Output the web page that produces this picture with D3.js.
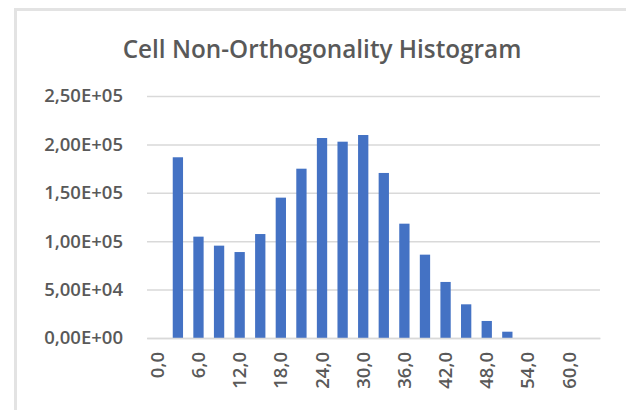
<!DOCTYPE html>
<html>
<head>
<meta charset="utf-8">
<script src="https://cdn.jsdelivr.net/npm/d3@7"></script>
<style>
  body { margin: 0; background: #fff; }
  text { font-family: "Open Sans", "Noto Sans", sans-serif; fill: #595959; }
</style>
</head>
<body>
<script>
const w = 626;
const h = 410;

// histogram bins (degrees) and cell counts
const bins = [0, 3, 6, 9, 12, 15, 18, 21, 24, 27, 30, 33, 36, 39, 42, 45, 48, 51, 54, 57, 60, 63];
const counts = [0, 186700, 104700, 95400, 88800, 107400, 145000, 174900, 206600, 202800, 209700,
                170500, 118100, 86100, 57900, 34800, 17600, 6500, 0, 0, 0, 0];
const yTicks = [0, 50000, 100000, 150000, 200000, 250000];
const xLabelBins = [0, 6, 12, 18, 24, 30, 36, 42, 48, 54, 60];

const data = bins.map((b, i) => ({bin: b, count: counts[i]}));

const svg = d3.select("body")
    .append("svg")
    .attr("width", w)
    .attr("height", h);

// chart frame
svg.append("rect")
    .attr("x", 15.5)
    .attr("y", 9.5)
    .attr("width", w + 20)
    .attr("height", h + 20)
    .attr("fill", "#fff")
    .attr("stroke", "#e3e3e3")
    .attr("stroke-width", 3);

svg.append("text")
    .attr("x", 322)
    .attr("y", 58)
    .attr("text-anchor", "middle")
    .style("font-size", "24.3px")
    .style("font-weight", "600")
    .text("Cell Non-Orthogonality Histogram");

const xScale = d3.scaleBand()
    .domain(bins)
    .range([147, 600])
    .paddingInner(0.5)
    .paddingOuter(0.25);

const yScale = d3.scaleLinear()
    .domain([0, 250000])
    .range([338, 96]);

function sci(v) {
    if (v === 0) return "0,00E+00";
    const e = Math.floor(Math.log10(v));
    const m = (v / Math.pow(10, e)).toFixed(2).replace(".", ",");
    return m + "E+" + String(e).padStart(2, "0");
}

const yAxis = d3.axisLeft(yScale)
    .tickValues(yTicks)
    .tickSize(-(600 - 147))
    .tickPadding(24)
    .tickFormat(sci);

svg.append("g")
    .attr("class", "yaxis")
    .attr("transform", "translate(147,0)")
    .call(yAxis)
    .call(g => g.select(".domain").remove())
    .call(g => g.selectAll(".tick line").attr("stroke", "#d9d9d9").attr("stroke-width", 1.5))
    .call(g => g.selectAll(".tick text")
        .attr("fill", "#595959")
        .style("font-size", "18.5px")
        .style("font-weight", "600"));

svg.selectAll("rect.bar")
    .data(data)
    .enter()
    .append("rect")
    .attr("class", "bar")
    .attr("x", d => xScale(d.bin))
    .attr("width", xScale.bandwidth())
    .attr("y", d => yScale(d.count))
    .attr("height", d => yScale(0) - yScale(d.count))
    .attr("fill", "#4472c4");

const xAxis = d3.axisBottom(xScale)
    .tickValues(xLabelBins)
    .tickSize(0)
    .tickPadding(0)
    .tickFormat(d => d.toFixed(1).replace(".", ","));

svg.append("g")
    .attr("class", "xaxis")
    .attr("transform", "translate(0,338)")
    .call(xAxis)
    .call(g => g.select(".domain").attr("stroke", "#d9d9d9").attr("stroke-width", 1.5))
    .call(g => g.selectAll(".tick text")
        .attr("fill", "#595959")
        .attr("transform", "rotate(-90)")
        .attr("x", -14)
        .attr("y", 0)
        .attr("dy", "0.35em")
        .attr("text-anchor", "end")
        .style("font-size", "18.5px")
        .style("font-weight", "600"));
</script>
</body>
</html>
